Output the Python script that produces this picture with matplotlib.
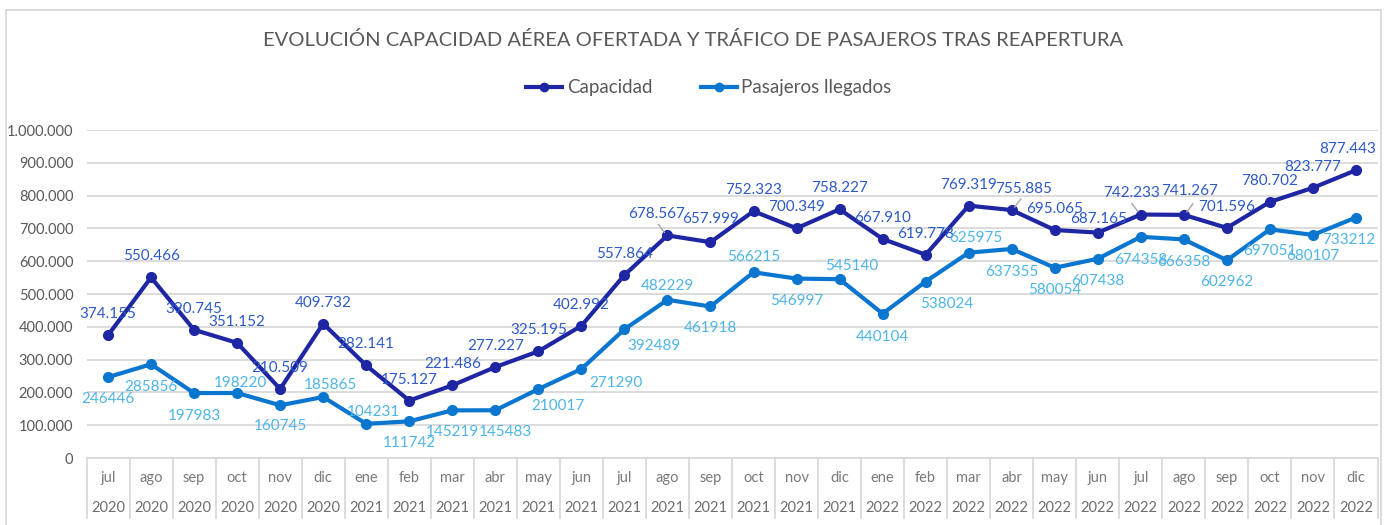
import matplotlib
matplotlib.use("Agg")
import matplotlib.pyplot as plt
from matplotlib.lines import Line2D
from matplotlib.ticker import FixedLocator
from matplotlib.transforms import offset_copy

plt.rcParams['font.family'] = ['Lato', 'DejaVu Sans']

months = ["jul", "ago", "sep", "oct", "nov", "dic",
          "ene", "feb", "mar", "abr", "may", "jun", "jul", "ago", "sep", "oct", "nov", "dic",
          "ene", "feb", "mar", "abr", "may", "jun", "jul", "ago", "sep", "oct", "nov", "dic"]
years = ["2020"] * 6 + ["2021"] * 12 + ["2022"] * 12

capacidad = [374155, 550466, 390745, 351152, 210509, 409732,
             282141, 175127, 221486, 277227, 325195, 402992,
             557864, 678567, 657999, 752323, 700349, 758227,
             667910, 619778, 769319, 755885, 695065, 687165,
             742233, 741267, 701596, 780702, 823777, 877443]
pasajeros = [246446, 285856, 197983, 198220, 160745, 185865,
             104231, 111742, 145219, 145483, 210017, 271290,
             392489, 482229, 461918, 566215, 546997, 545140,
             440104, 538024, 625975, 637355, 580054, 607438,
             674358, 666358, 602962, 697051, 680107, 733212]

yticks = [0, 100000, 200000, 300000, 400000, 500000, 600000, 700000, 800000, 900000, 1000000]
ytick_labels = ["0", "100.000", "200.000", "300.000", "400.000", "500.000",
                "600.000", "700.000", "800.000", "900.000", "1.000.000"]

title = "EVOLUCIÓN CAPACIDAD AÉREA OFERTADA Y TRÁFICO DE PASAJEROS TRAS REAPERTURA"

# label offsets in pixels (dx, dy; dy>0 is up)
cap_off = [(0, 21)] * 30
cap_off[13] = (-11, 21)
cap_off[14] = (0, 23)
cap_off[21] = (12, 21)
cap_off[23] = (1, 14)
cap_off[24] = (-9, 22)
cap_off[25] = (6, 24)
cap_off[29] = (-8, 21)

pas_off = [(0, -22), (0, -23), (0, -23), (3, 10), (0, -21), (7, 12),
           (7, 12), (0, -22), (0, -22), (10, -22), (20, -17), (35, -14),
           (30, -17), (0, 14), (0, -22), (0, 15), (0, -22), (12, 13),
           (0, -23), (21, -22), (7, 15), (0, -23), (0, -22), (0, -22),
           (0, -23), (0, -23), (0, -22), (0, -22), (0, -21), (-7, -22)]
leaders = [13, 21, 24, 25]

W, H = 1388, 525
fig = plt.figure(figsize=(W / 100, H / 100), dpi=100)
left_px, right_px, top_px, bot_px = 86.5, 1377.5, 130, 458
ax = fig.add_axes([left_px / W, 1 - bot_px / H, (right_px - left_px) / W, (bot_px - top_px) / H])

CAP_C = "#1F26A3"
PAS_C = "#0A76D0"
CAP_T = "#2D5AC7"
PAS_T = "#4DB5E8"
GRAY_T = "#595959"
GRID_C = "#D9D9D9"

x = list(range(len(months)))
ax.plot(x, pasajeros, color=PAS_C, lw=3.0, marker="o", ms=7, zorder=3, solid_joinstyle="round")
ax.plot(x, capacidad, color=CAP_C, lw=3.0, marker="o", ms=7, zorder=4, solid_joinstyle="round")

ax.set_xlim(-0.5, len(months) - 0.5)
ax.set_ylim(0, 1000000)
ax.yaxis.set_major_locator(FixedLocator(yticks))
ax.set_yticklabels(ytick_labels)
ax.grid(axis="y", color=GRID_C, lw=1.3)
ax.set_axisbelow(True)
for s in ["top", "right", "left"]:
    ax.spines[s].set_visible(False)
ax.spines["bottom"].set_color(GRID_C)
ax.spines["bottom"].set_linewidth(1.3)
ax.tick_params(axis="y", length=0, pad=9.5, labelsize=10.5, labelcolor=GRAY_T)
ax.tick_params(axis="x", length=0, labelbottom=False)

pt = 72 / 100  # px -> points
for i in x:
    dx, dy = cap_off[i]
    ax.annotate(f"{capacidad[i]:,}".replace(",", "."), (i, capacidad[i]),
                xytext=(dx * pt, dy * pt), textcoords="offset points",
                ha="center", va="center", color=CAP_T, fontsize=11, zorder=6)
    dx, dy = pas_off[i]
    ax.annotate(f"{pasajeros[i]}", (i, pasajeros[i]),
                xytext=(dx * pt, dy * pt), textcoords="offset points",
                ha="center", va="center", color=PAS_T, fontsize=11, zorder=6)

# leader lines for displaced labels
for i in leaders:
    dx, dy = cap_off[i]
    sx = 1 if dx > 0 else -1
    t1 = offset_copy(ax.transData, fig=fig, x=sx * 3, y=3, units="dots")
    t2 = offset_copy(ax.transData, fig=fig, x=sx * 9, y=11, units="dots")
    p1 = t1.transform((i, capacidad[i]))
    p2 = t2.transform((i, capacidad[i]))
    fig.add_artist(Line2D([p1[0] / W, p2[0] / W], [p1[1] / H, p2[1] / H],
                          transform=fig.transFigure, color="#A6A6A6", lw=1.0, zorder=5))

# category axis table
def fy(py):
    return 1 - py / H

sep_top, sep_bot = 458, 518
for k in range(len(months) + 1):
    xpx = left_px + k * (right_px - left_px) / len(months)
    fig.add_artist(Line2D([xpx / W, xpx / W], [fy(sep_top), fy(sep_bot)],
                          transform=fig.transFigure, color=GRID_C, lw=1.3))
for i in x:
    xpx = left_px + (i + 0.5) * (right_px - left_px) / len(months)
    fig.text(xpx / W, fy(478), months[i], ha="center", va="center", color="#7A7A7A", fontsize=10.5)
    fig.text(xpx / W, fy(508), years[i], ha="center", va="center", color="#6E6E6E", fontsize=10.5)

# outer frame
fc = "#D9D9D9"
fig.add_artist(Line2D([6 / W, 6 / W], [fy(10), 0], transform=fig.transFigure, color=fc, lw=1.3))
fig.add_artist(Line2D([1381 / W, 1381 / W], [fy(10), 0], transform=fig.transFigure, color=fc, lw=1.3))
fig.add_artist(Line2D([6 / W, 1381 / W], [fy(10), fy(10)], transform=fig.transFigure, color=fc, lw=1.3))

fig.text(693 / W, fy(40), title, ha="center", va="center", color=GRAY_T, fontsize=14.5)

handles = [Line2D([], [], color=CAP_C, lw=3, marker="o", ms=6),
           Line2D([], [], color=PAS_C, lw=3, marker="o", ms=6)]
fig.legend(handles, ["Capacidad", "Pasajeros llegados"], loc="center",
           bbox_to_anchor=(709 / W, fy(88)), ncol=2, frameon=False, fontsize=13.5,
           labelcolor=GRAY_T, handlelength=1.9, handletextpad=0.25, columnspacing=2.6)

fig.savefig("out.png", dpi=100)
